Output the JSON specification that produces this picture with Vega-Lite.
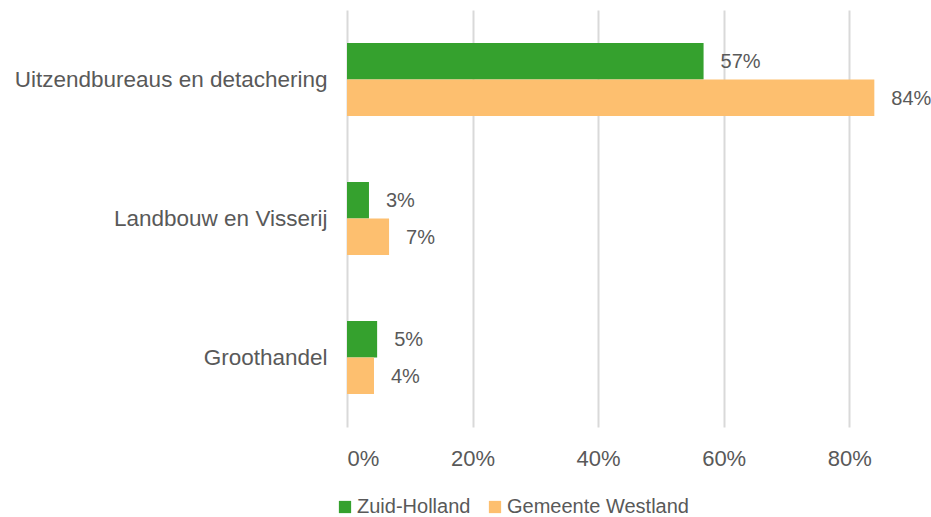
{
  "$schema": "https://vega.github.io/schema/vega-lite/v6.json",
  "autosize": {"type": "none"},
  "width": 565,
  "height": 417,
  "padding": {"left": 347, "top": 10, "right": 19, "bottom": 90},
  "background": "white",
  "config": {
    "view": {"stroke": null},
    "font": "Liberation Sans",
    "text": {"font": "Liberation Sans"}
  },
  "data": {
    "values": [
      {"sector": "Uitzendbureaus en detachering", "regio": "Zuid-Holland", "value": 0.568, "label": "57%"},
      {"sector": "Uitzendbureaus en detachering", "regio": "Gemeente Westland", "value": 0.84, "label": "84%"},
      {"sector": "Landbouw en Visserij", "regio": "Zuid-Holland", "value": 0.035, "label": "3%"},
      {"sector": "Landbouw en Visserij", "regio": "Gemeente Westland", "value": 0.067, "label": "7%"},
      {"sector": "Groothandel", "regio": "Zuid-Holland", "value": 0.048, "label": "5%"},
      {"sector": "Groothandel", "regio": "Gemeente Westland", "value": 0.043, "label": "4%"}
    ]
  },
  "encoding": {
    "y": {
      "field": "sector",
      "type": "nominal",
      "sort": ["Uitzendbureaus en detachering", "Landbouw en Visserij", "Groothandel"],
      "scale": {"paddingInner": 0.475, "paddingOuter": 0.2375},
      "axis": {
        "title": null,
        "domain": false,
        "ticks": false,
        "labelPadding": 20,
        "labelFontSize": 22.5,
        "labelLimit": 400,
        "labelColor": "#595959",
        "labelFont": "Liberation Sans"
      }
    },
    "yOffset": {
      "field": "regio",
      "type": "nominal",
      "sort": ["Zuid-Holland", "Gemeente Westland"],
      "scale": {"paddingInner": 0, "paddingOuter": 0}
    },
    "x": {
      "field": "value",
      "type": "quantitative",
      "scale": {"domain": [0, 0.9], "nice": false},
      "axis": {
        "title": null,
        "format": ".0%",
        "values": [0, 0.2, 0.4, 0.6, 0.8],
        "domain": false,
        "ticks": false,
        "grid": true,
        "gridColor": "#d9d9d9",
        "gridWidth": 2,
        "labelPadding": 21,
        "labelFontSize": 22,
        "labelColor": "#595959",
        "labelFont": "Liberation Sans"
      }
    }
  },
  "layer": [
    {
      "mark": {"type": "bar"},
      "encoding": {
        "color": {
          "field": "regio",
          "type": "nominal",
          "sort": ["Zuid-Holland", "Gemeente Westland"],
          "scale": {"domain": ["Zuid-Holland", "Gemeente Westland"], "range": ["#35a12e", "#fdbf6f"]},
          "legend": {
            "title": null,
            "orient": "none",
            "direction": "horizontal",
            "legendX": -12,
            "legendY": 487,
            "symbolType": "square",
            "symbolSize": 150,
            "symbolStrokeWidth": 0,
            "symbolOpacity": 1,
            "labelFontSize": 20,
            "labelLimit": 400,
            "labelColor": "#595959",
            "labelFont": "Liberation Sans",
            "labelOffset": 2,
            "columnPadding": 14
          }
        }
      }
    },
    {
      "mark": {"type": "text", "align": "left", "baseline": "middle", "dx": 17, "dy": 1, "fontSize": 20, "color": "#595959"},
      "encoding": {
        "text": {"field": "label"}
      }
    }
  ]
}
